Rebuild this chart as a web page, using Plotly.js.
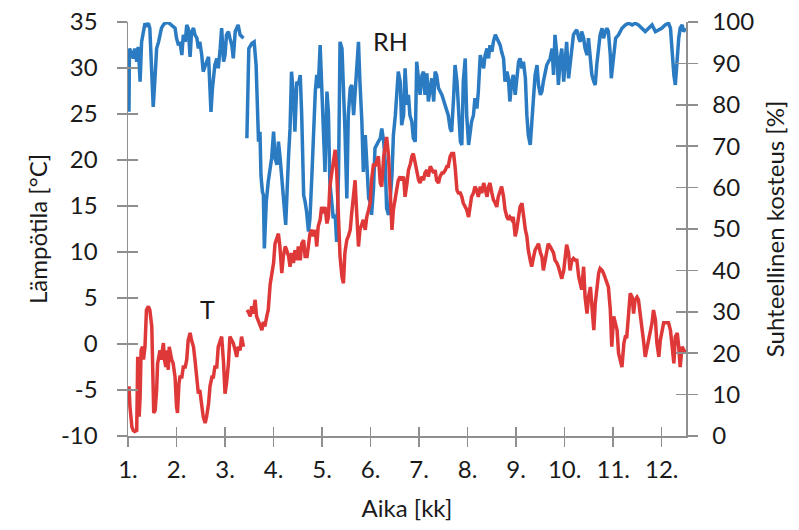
<!DOCTYPE html>
<html>
<head>
<meta charset="utf-8">
<script src="https://cdn.plot.ly/plotly-3.0.1.min.js"></script>
<style>html,body{margin:0;padding:0;background:#fff}#chart{width:799px;height:530px}</style>
</head>
<body>
<div id="chart"></div>
<script>
// Month positions (1. = start of January) and values
const monthTicks = [1,2,3,4,5,6,7,8,9,10,11,12];
const monthLabels = ["1.","2.","3.","4.","5.","6.","7.","8.","9.","10.","11.","12."];
const tempTicks = [-10,-5,0,5,10,15,20,25,30,35];
const tempLabels = ["-10","-5","0","5","10","15","20","25","30","35"];

const rhMonth = [1.02,1.03,1.08,1.11,1.14,1.18,1.21,1.25,1.28,1.32,1.35,1.38,1.42,1.45,1.49,1.52,1.56,1.59,1.63,1.66,1.69,1.73,1.76,1.83,1.90,1.97,2.00,2.04,2.07,2.11,2.14,2.18,2.21,2.24,2.28,2.31,2.35,2.38,2.42,2.45,2.48,2.52,2.55,2.59,2.62,2.66,2.69,2.71,2.74,2.76,2.79,2.83,2.86,2.90,2.93,2.97,3.00,3.03,3.07,3.10,3.14,3.17,3.21,3.24,3.27,3.31,3.34,3.38,3.41,
3.45,3.49,3.55,3.60,3.64,3.67,3.69,3.72,3.74,3.77,3.79,3.81,3.85,3.89,3.96,4.00,4.03,4.07,4.10,4.13,4.20,4.25,4.31,4.34,4.37,4.41,4.44,4.48,4.51,4.55,4.58,4.62,4.65,4.68,4.72,4.75,4.79,4.82,4.86,4.89,4.92,4.96,4.99,5.03,5.06,5.10,5.13,5.16,5.20,5.23,5.27,5.30,5.34,5.37,5.41,5.44,5.47,5.51,5.54,5.58,5.61,5.65,5.68,5.71,5.75,5.78,5.82,5.85,5.89,5.92,5.96,5.99,6.02,6.06,6.09,6.16,6.20,6.23,6.27,6.30,6.33,6.37,6.40,6.44,6.47,6.51,6.54,6.57,6.61,6.64,6.68,6.71,6.75,6.78,6.81,6.85,6.88,6.92,6.95,6.99,7.02,7.06,7.09,7.12,7.16,7.19,7.23,7.26,7.30,7.33,7.36,7.40,7.47,7.54,7.60,7.64,7.67,7.71,7.74,7.78,7.81,7.85,7.88,7.91,7.95,7.98,8.02,8.05,8.08,8.12,8.15,8.19,8.22,8.26,8.29,8.33,8.36,8.40,8.43,8.46,8.50,8.53,8.57,8.60,8.63,8.67,8.70,8.74,8.77,8.81,8.84,8.87,8.91,8.94,8.98,9.01,9.05,9.08,9.12,9.15,9.19,9.22,9.25,9.29,9.32,9.36,9.39,9.43,9.46,9.50,9.53,9.56,9.60,9.63,9.70,9.74,9.77,9.80,9.84,9.87,9.91,9.94,9.98,10.01,10.04,10.08,10.11,10.15,10.18,10.22,10.25,10.29,10.32,10.35,10.39,10.42,10.46,10.49,10.53,10.56,10.60,10.63,10.66,10.70,10.73,10.77,10.80,10.84,10.87,10.90,10.94,10.96,10.99,11.02,11.05,11.11,11.18,11.25,11.32,11.39,11.45,11.52,11.59,11.66,11.73,11.80,11.87,11.94,12.00,12.07,12.14,12.18,12.21,12.25,12.28,12.31,12.35,12.38,12.42,12.45,12.49];
const rhValue = [78.3,93.6,92.4,91.2,93.6,90.4,94.0,85.6,95.2,98.5,99.7,98.9,99.7,98.5,89.6,79.5,87.2,93.6,95.2,96.9,98.5,99.3,99.7,99.9,99.3,98.5,96.1,94.4,95.2,92.0,96.9,95.2,99.3,98.5,91.6,97.7,98.5,96.9,96.1,93.6,95.2,92.0,88.0,89.6,90.4,91.6,85.6,78.3,84.0,87.2,89.6,91.2,88.8,93.6,98.5,90.4,92.0,96.9,97.7,96.1,94.4,91.2,97.7,98.5,99.3,96.9,96.5,96.1,null,
71.9,93.6,94.8,95.2,89.6,73.5,71.1,73.5,63.0,59.0,58.2,45.3,56.6,61.4,67.1,73.5,67.1,65.5,71.1,67.9,58.2,51.0,67.9,74.3,88.0,82.4,73.5,85.6,84.8,87.2,77.5,58.2,56.6,54.2,49.4,52.6,63.0,73.5,83.2,87.2,84.0,94.4,85.6,75.1,63.8,83.2,78.3,61.4,56.6,52.6,53.4,46.9,63.8,95.2,93.6,85.6,74.3,57.4,77.5,84.0,84.8,77.5,83.2,88.8,95.2,85.6,75.9,63.8,72.7,66.3,57.4,56.6,53.4,59.8,69.5,71.1,71.9,74.3,71.1,66.3,55.0,53.4,56.6,63.0,72.7,77.5,81.6,88.0,85.6,75.1,77.5,88.8,80.0,82.4,77.5,75.9,71.9,71.1,90.4,85.6,82.4,87.2,88.0,82.4,87.6,80.8,84.0,86.4,80.8,88.0,87.2,84.0,82.4,80.0,77.5,74.3,73.5,81.6,89.6,85.6,77.5,71.1,70.3,85.6,91.2,77.5,70.3,74.3,75.9,77.5,81.6,79.1,83.2,92.0,90.4,88.8,92.0,93.6,91.2,94.4,92.8,95.2,96.9,96.1,95.2,94.4,92.8,91.2,85.6,88.0,86.4,80.8,85.6,87.2,82.4,86.4,90.4,91.2,88.8,90.4,86.4,77.5,72.7,70.3,75.1,81.6,87.2,89.6,84.8,82.4,83.2,85.6,88.0,89.6,91.2,93.6,87.2,96.9,92.0,84.8,91.2,93.6,85.6,92.0,95.2,86.4,89.6,93.6,96.9,97.7,98.1,96.1,95.2,97.7,96.1,93.6,92.0,96.1,90.4,87.2,85.6,84.8,89.6,95.2,96.9,98.5,96.1,97.7,98.5,97.7,92.0,86.4,90.4,94.4,96.1,96.9,98.5,99.3,99.7,99.3,99.7,99.3,98.5,97.7,98.5,99.3,97.7,98.1,98.5,99.3,99.7,98.5,92.0,87.2,84.8,90.4,96.1,98.5,99.3,97.7,98.5];

const tMonth = [1.02,1.04,1.08,1.11,1.14,1.18,1.20,1.23,1.25,1.27,1.30,1.32,1.35,1.36,1.38,1.42,1.45,1.49,1.51,1.53,1.56,1.59,1.61,1.64,1.66,1.68,1.71,1.73,1.75,1.78,1.80,1.83,1.85,1.88,1.90,1.93,1.97,2.00,2.02,2.05,2.07,2.11,2.14,2.18,2.21,2.24,2.28,2.31,2.35,2.38,2.42,2.45,2.48,2.52,2.55,2.59,2.62,2.66,2.69,2.73,2.76,2.79,2.83,2.86,2.90,2.93,2.97,3.00,3.03,3.07,3.10,3.14,3.17,3.21,3.24,3.27,3.31,3.34,3.38,3.41,
3.45,3.48,3.52,3.55,3.58,3.62,3.65,3.69,3.72,3.76,3.79,3.82,3.86,3.89,3.93,3.96,4.00,4.03,4.07,4.10,4.13,4.17,4.20,4.24,4.27,4.31,4.34,4.37,4.41,4.44,4.48,4.51,4.55,4.58,4.62,4.65,4.69,4.72,4.75,4.79,4.82,4.86,4.89,4.92,4.96,4.99,5.03,5.06,5.10,5.13,5.16,5.20,5.23,5.27,5.30,5.34,5.37,5.41,5.44,5.47,5.51,5.54,5.58,5.61,5.65,5.68,5.71,5.75,5.78,5.82,5.85,5.89,5.92,5.96,5.99,6.02,6.06,6.09,6.13,6.16,6.20,6.23,6.27,6.30,6.33,6.37,6.40,6.44,6.47,6.51,6.54,6.57,6.61,6.64,6.68,6.71,6.75,6.78,6.82,6.85,6.88,6.92,6.95,6.99,7.02,7.06,7.09,7.12,7.16,7.19,7.23,7.26,7.30,7.33,7.36,7.40,7.43,7.47,7.50,7.54,7.57,7.60,7.64,7.67,7.71,7.74,7.78,7.81,7.85,7.88,7.91,7.95,7.98,8.02,8.05,8.08,8.12,8.15,8.19,8.22,8.26,8.29,8.33,8.36,8.40,8.43,8.46,8.50,8.53,8.57,8.60,8.63,8.67,8.70,8.74,8.77,8.81,8.84,8.87,8.91,8.94,8.98,9.01,9.05,9.08,9.12,9.15,9.19,9.22,9.25,9.29,9.32,9.36,9.39,9.43,9.46,9.50,9.53,9.56,9.60,9.63,9.66,9.70,9.74,9.77,9.80,9.84,9.87,9.91,9.94,9.98,10.01,10.04,10.08,10.11,10.15,10.18,10.22,10.25,10.29,10.32,10.35,10.39,10.42,10.46,10.49,10.53,10.56,10.60,10.63,10.66,10.70,10.73,10.77,10.80,10.84,10.87,10.90,10.94,10.97,11.01,11.04,11.08,11.11,11.15,11.18,11.22,11.25,11.28,11.32,11.35,11.39,11.42,11.45,11.49,11.52,11.56,11.59,11.63,11.66,11.70,11.73,11.77,11.80,11.83,11.87,11.90,11.94,11.97,12.00,12.04,12.07,12.11,12.14,12.18,12.21,12.25,12.28,12.32,12.35,12.38,12.42,12.45,12.49];
const tValue = [-4.6,-6.8,-9.0,-9.4,-9.5,-9.4,-1.4,-7.9,-5.7,-0.7,-0.3,-1.7,-0.3,1.9,3.7,4.1,3.7,1.9,-2.8,-7.5,-7.2,-5.0,-2.1,-1.4,-0.7,-1.7,-0.7,0.1,-1.7,-2.5,-0.7,-2.8,-0.3,-1.4,-1.7,-2.1,-3.6,-6.8,-7.5,-4.3,-3.6,-3.6,-2.5,-2.5,-1.7,0.4,1.2,0.4,-0.3,-1.7,-4.3,-5.4,-5.0,-6.5,-7.9,-8.6,-7.9,-6.5,-4.6,-3.6,-3.6,-2.5,-2.5,-0.3,0.4,0.8,-2.1,-5.4,-4.3,-2.1,0.8,0.4,0.1,-0.7,-1.4,-0.3,-0.7,0.8,-0.3,null,
3.7,3.5,3.0,4.1,3.3,4.8,3.0,2.4,1.9,1.5,2.4,1.9,3.0,3.7,6.5,7.3,8.8,10.9,11.7,12.0,10.6,7.7,9.5,10.6,10.2,9.5,8.4,9.9,8.8,10.2,9.1,10.6,9.1,10.9,11.3,9.5,9.5,10.9,12.0,12.4,11.7,12.4,10.6,12.8,13.5,14.9,14.2,14.9,13.1,13.8,17.1,18.6,20.0,21.1,18.9,12.4,9.5,7.3,6.6,9.9,11.3,11.7,12.4,14.2,16.0,17.8,14.6,10.6,12.4,13.1,13.5,12.4,13.8,14.6,15.3,17.8,19.6,19.3,20.0,20.4,17.5,17.1,20.4,21.8,22.5,20.4,16.0,12.4,14.6,16.0,16.7,17.8,18.2,17.8,18.2,16.0,17.5,18.9,19.6,20.4,20.7,19.6,18.6,17.8,17.5,18.2,17.8,18.6,18.9,18.2,19.3,18.9,18.6,18.9,17.8,17.5,18.2,18.6,18.6,18.9,19.3,19.3,20.4,20.7,20.7,19.3,16.7,16.4,16.4,16.0,15.3,14.9,14.6,13.8,15.3,16.0,16.4,17.1,16.7,16.0,17.1,16.4,17.5,16.7,16.0,17.1,17.5,16.4,15.7,15.3,14.9,16.0,16.7,17.1,16.0,14.6,13.8,13.5,13.8,13.5,13.8,11.7,12.4,14.2,14.9,15.3,13.8,12.4,11.7,10.2,9.1,8.4,9.5,10.2,10.6,10.9,9.9,9.5,8.0,9.1,10.2,10.9,10.6,10.2,9.9,9.1,8.8,8.4,7.7,7.1,8.0,9.5,10.8,9.9,8.0,9.1,9.3,9.1,9.1,7.3,6.6,5.9,8.4,5.1,3.3,5.1,6.2,3.7,1.5,4.4,6.2,7.7,8.2,8.0,7.7,7.0,6.6,6.2,3.7,-0.3,3.0,2.3,1.5,-1.0,-1.7,-2.5,0.1,0.8,0.8,3.3,5.5,5.1,3.3,4.8,5.1,4.8,3.3,1.9,0.1,-1.4,-0.3,0.8,1.9,2.3,3.7,2.6,0.1,-1.4,0.4,1.5,2.3,2.3,2.3,2.3,1.5,-0.3,-2.1,0.8,1.2,-0.3,-2.5,-0.3,-0.7,-1.0];

const rhLabel = "RH";
const tLabel = "T";

const FONT = "Lato, 'Open Sans', sans-serif";
const TXT = "#1a1a1a";
const AX = "#8f8f8f";

const traces = [
  {x: rhMonth, y: rhValue, xaxis: "x", yaxis: "y", mode: "lines", connectgaps: false,
   line: {color: "#2a7bc2", width: 3.5}, hoverinfo: "skip", showlegend: false},
  {x: tMonth, y: tValue, xaxis: "x", yaxis: "y2", mode: "lines", connectgaps: false,
   line: {color: "#de3838", width: 3.5}, hoverinfo: "skip", showlegend: false},
  // empty helpers so the inward tick axes are drawn
  {x: [null], y: [null], xaxis: "x2", yaxis: "y", mode: "lines", hoverinfo: "skip", showlegend: false},
  {x: [null], y: [null], xaxis: "x", yaxis: "y3", mode: "lines", hoverinfo: "skip", showlegend: false},
  {x: [null], y: [null], xaxis: "x", yaxis: "y4", mode: "lines", hoverinfo: "skip", showlegend: false}
];

const tickFont = {family: FONT, size: 24, color: TXT};
const titleFont = {family: FONT, size: 24, color: TXT};

const layout = {
  width: 799, height: 530,
  margin: {l: 128, r: 113, t: 22, b: 94},
  paper_bgcolor: "#fff", plot_bgcolor: "#fff",
  showlegend: false,
  xaxis: {
    range: [1, 12.5], tickvals: monthTicks, ticktext: monthLabels,
    ticks: "outside", ticklen: 9, tickwidth: 1.5, tickcolor: AX,
    showline: true, linecolor: AX, linewidth: 1.5, showgrid: false, zeroline: false,
    tickfont: tickFont, ticklabelstandoff: 3,
    title: {text: "Aika [kk]", font: titleFont, standoff: 18},
    anchor: "y", automargin: false
  },
  xaxis2: {
    range: [1, 12.5], tickvals: monthTicks, overlaying: "x", anchor: "y", side: "bottom",
    ticks: "inside", ticklen: 9, tickwidth: 1.5, tickcolor: AX,
    showline: false, showgrid: false, zeroline: false, showticklabels: false
  },
  yaxis: {
    range: [0, 100], dtick: 10, side: "right", anchor: "x",
    ticks: "outside", ticklen: 10, tickwidth: 1.5, tickcolor: AX,
    showline: true, linecolor: AX, linewidth: 1.5, showgrid: false, zeroline: false,
    tickfont: tickFont, ticklabelstandoff: 10,
    title: {text: "Suhteellinen kosteus [%]", font: titleFont, standoff: 14},
    automargin: false
  },
  yaxis2: {
    range: [-10, 35], tickvals: tempTicks, ticktext: tempLabels, side: "left", overlaying: "y", anchor: "x",
    ticks: "outside", ticklen: 10, tickwidth: 1.5, tickcolor: AX,
    showline: true, linecolor: AX, linewidth: 1.5, showgrid: false, zeroline: false,
    tickfont: tickFont, ticklabelstandoff: 14,
    title: {text: "Lämpötila [°C]", font: titleFont, standoff: 6},
    automargin: false
  },
  yaxis3: {
    range: [0, 100], dtick: 10, side: "right", overlaying: "y", anchor: "x",
    ticks: "inside", ticklen: 10, tickwidth: 1.5, tickcolor: AX,
    showline: false, showgrid: false, zeroline: false, showticklabels: false
  },
  yaxis4: {
    range: [-10, 35], tickvals: tempTicks, side: "left", overlaying: "y", anchor: "x",
    ticks: "inside", ticklen: 10, tickwidth: 1.5, tickcolor: AX,
    showline: false, showgrid: false, zeroline: false, showticklabels: false
  },
  annotations: [
    {x: 6.4, y: 32.9, xref: "x", yref: "y2", text: rhLabel, showarrow: false,
     font: {family: FONT, size: 25, color: TXT}},
    {x: 2.63, y: 3.8, xref: "x", yref: "y2", text: tLabel, showarrow: false,
     font: {family: FONT, size: 25, color: TXT}}
  ]
};

Plotly.newPlot("chart", traces, layout, {staticPlot: true, displayModeBar: false});
</script>
</body>
</html>
